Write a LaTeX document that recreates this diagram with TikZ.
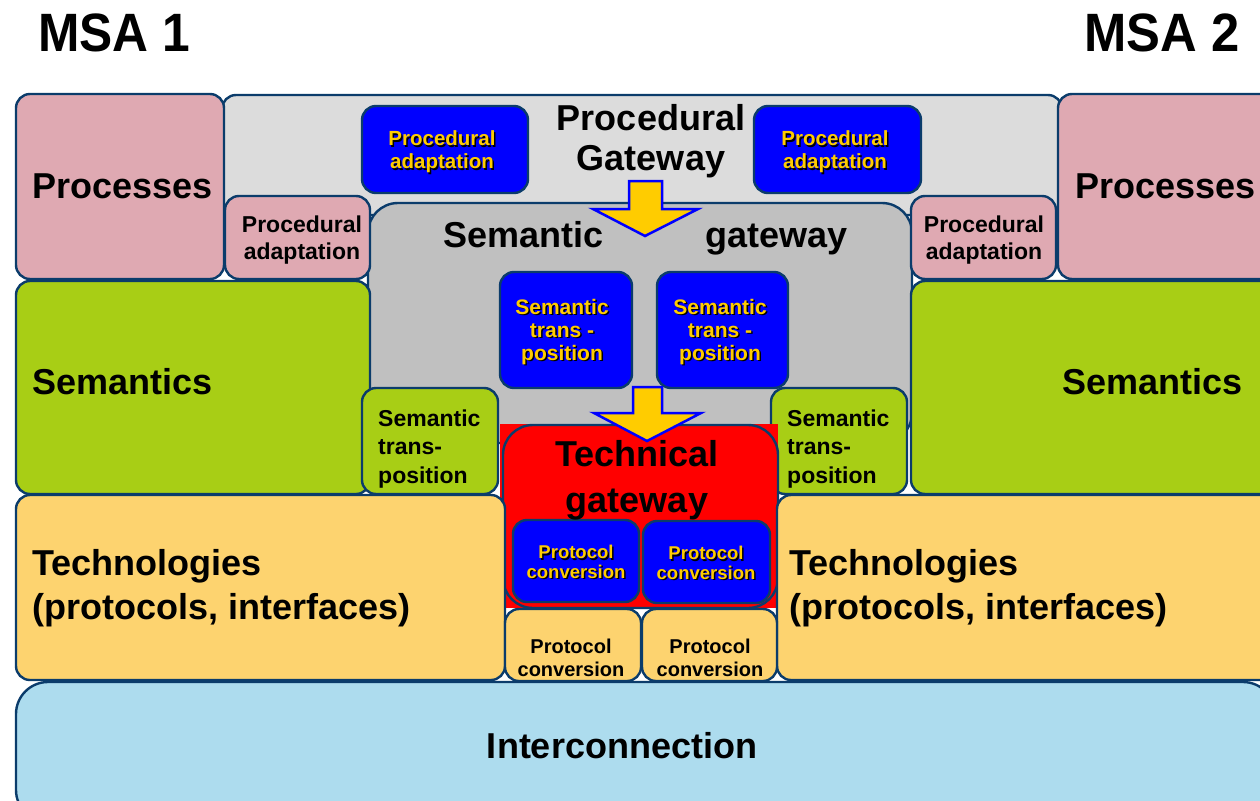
\documentclass[tikz,border=0pt]{standalone}
\usepackage{fontspec}
\setmainfont{Liberation Sans}
\definecolor{navy}{HTML}{0B3C6B}
\definecolor{pinkc}{HTML}{DFA9B2}
\definecolor{lgray}{HTML}{DCDCDC}
\definecolor{mgray}{HTML}{C0C0C0}
\definecolor{greenc}{HTML}{A8CE15}
\definecolor{techc}{HTML}{FDD36F}
\definecolor{iconc}{HTML}{ADDCEE}
\definecolor{ylw}{HTML}{FFCC00}
\definecolor{bluec}{HTML}{0000FF}
\definecolor{redc}{HTML}{FF0000}
\newcommand\ytx[4]{%
  \node[ytxt,#4,text=black,xshift=1.5pt,yshift=-1.5pt] (#1s) at #2 {#3};
  \node[ytxt,#4] (#1) at #2 {#3};}
\begin{document}
\begin{tikzpicture}[x=1pt,y=-1pt,
  blk/.style={draw=navy, line width=2.4, rounded corners=14, anchor=north west, inner sep=0, outer sep=0},
  big/.style={font=\fontsize{36}{42}\selectfont\bfseries, inner sep=0},
  ytxt/.style={text=ylw, align=center, inner sep=0},
  smallb/.style={font=\fontsize{23}{27}\selectfont\bfseries, inner sep=0},
  arr/.style={fill=ylw, draw=bluec, line width=2.5, line join=miter}]
\useasboundingbox (0,0) rectangle (1260,800);
% titles
\node[font=\fontsize{54}{60}\selectfont\bfseries, xscale=0.92, anchor=base west, inner sep=0] (msa1) at (38,52) {MSA 1};
\node[font=\fontsize{54}{60}\selectfont\bfseries, xscale=0.94, anchor=base east, inner sep=0] (msa2) at (1240,52) {MSA 2};
% background gateways
\node[blk, fill=lgray, minimum width=840, minimum height=120] (pgw) at (222,95) {};
\node[blk, fill=mgray, minimum width=544, minimum height=240, rounded corners=30] (sgw) at (368,203) {};
% processes
\node[blk, fill=pinkc, minimum width=208, minimum height=185] (proc1) at (16,94) {};
\node[blk, fill=pinkc, minimum width=217, minimum height=185] (proc2) at (1058,94) {};
\node[blk, fill=pinkc, minimum width=145, minimum height=83] (pa1) at (225,196) {};
\node[blk, fill=pinkc, minimum width=145, minimum height=83] (pa2) at (911,196) {};
% semantics
\node[blk, fill=greenc, minimum width=354, minimum height=213] (sem1) at (16,281) {};
\node[blk, fill=greenc, minimum width=364, minimum height=213] (sem2) at (911,281) {};
\node[blk, fill=greenc, minimum width=136, minimum height=106] (gst1) at (362,388) {};
\node[blk, fill=greenc, minimum width=136, minimum height=106] (gst2) at (771,388) {};
% technical gateway
\fill[redc] (500,424) rectangle (778,608);
\node[blk, fill=redc, minimum width=275, minimum height=183, rounded corners=30] (tgw) at (503,425) {};
% technologies
\node[blk, fill=techc, minimum width=489, minimum height=185] (tech1) at (16,495) {};
\node[blk, fill=techc, minimum width=498, minimum height=185] (tech2) at (777,495) {};
\node[blk, fill=techc, minimum width=136, minimum height=72] (ypc1) at (505,609) {};
\node[blk, fill=techc, minimum width=135, minimum height=72] (ypc2) at (642,609) {};
% interconnection
\node[blk, fill=iconc, minimum width=1259, minimum height=140, rounded corners=32] (inter) at (16,682) {};
% blue boxes
\node[blk, fill=bluec, minimum width=166, minimum height=87] (bpa1) at (362,106) {};
\node[blk, fill=bluec, minimum width=167, minimum height=87] (bpa2) at (754,106) {};
\node[blk, fill=bluec, minimum width=132, minimum height=116] (bst1) at (500,272) {};
\node[blk, fill=bluec, minimum width=131, minimum height=116] (bst2) at (657,272) {};
\node[blk, fill=bluec, minimum width=126, minimum height=82] (bpc1) at (513,520) {};
\node[blk, fill=bluec, minimum width=127, minimum height=82] (bpc2) at (643,521) {};
% arrows
\draw[arr] (629,181) -- (662,181) -- (662,209) -- (698,209) -- (645,236) -- (593,209) -- (629,209) -- cycle;
\draw[arr] (633,387) -- (662,387) -- (662,413) -- (701,413) -- (647,441) -- (594,413) -- (633,413) -- cycle;
% big labels
\node[big, anchor=base west] (proc1t) at (32,198) {Processes};
\node[big, anchor=base west] (proc2t) at (1075,198) {Processes};
\node[big, anchor=base west] (sem1t) at (32,394) {Semantics};
\node[big, anchor=base east] (sem2t) at (1243,394) {Semantics};
\node[big, anchor=north west, align=left, font=\fontsize{36}{44}\selectfont\bfseries] (tech1t) at (32,549) {Technologies\\(protocols, interfaces)};
\node[big, anchor=north west, align=left, font=\fontsize{36}{44}\selectfont\bfseries] (tech2t) at (789,549) {Technologies\\(protocols, interfaces)};
\node[big, anchor=base] (intert) at (622,758) {Interconnection};
\node[big, anchor=north, align=center, font=\fontsize{36}{40}\selectfont\bfseries] (pgwt) at (651,104) {Procedural\\Gateway};
\node[big, anchor=base west] (sgwt1) at (443,247) {Semantic};
\node[big, anchor=base west] (sgwt2) at (705,247) {gateway};
\node[big, anchor=north, align=center, font=\fontsize{36}{46}\selectfont\bfseries] (tgwt) at (637,440) {Technical\\gateway};
% small black labels
\node[smallb, align=center] (pa1t) at (302,240) {Procedural\\adaptation};
\node[smallb, align=center] (pa2t) at (984,240) {Procedural\\adaptation};
\node[smallb, align=left, anchor=west, font=\fontsize{23}{28.5}\selectfont\bfseries] (gst1t) at (378,449) {Semantic\\trans-\\position};
\node[smallb, align=left, anchor=west, font=\fontsize{23}{28.5}\selectfont\bfseries] (gst2t) at (787,449) {Semantic\\trans-\\position};
\node[smallb, align=center, font=\fontsize{20}{23}\selectfont\bfseries] (ypc1t) at (571,658) {Protocol\\conversion};
\node[smallb, align=center, font=\fontsize{20}{23}\selectfont\bfseries] (ypc2t) at (710,658) {Protocol\\conversion};
% yellow labels with shadow
\ytx{bpa1t}{(442,152)}{Procedural\\adaptation}{font=\fontsize{20.5}{23}\selectfont\bfseries}
\ytx{bpa2t}{(835,152)}{Procedural\\adaptation}{font=\fontsize{20.5}{23}\selectfont\bfseries}
\ytx{bst1t}{(562,332)}{Semantic\\trans -\\position}{font=\fontsize{21}{23}\selectfont\bfseries}
\ytx{bst2t}{(720,332)}{Semantic\\trans -\\position}{font=\fontsize{21}{23}\selectfont\bfseries}
\ytx{bpc1t}{(576,562)}{Protocol\\conversion}{font=\fontsize{18.5}{19.5}\selectfont\bfseries}
\ytx{bpc2t}{(706,563)}{Protocol\\conversion}{font=\fontsize{18.5}{19.5}\selectfont\bfseries}
\end{tikzpicture}
\end{document}
